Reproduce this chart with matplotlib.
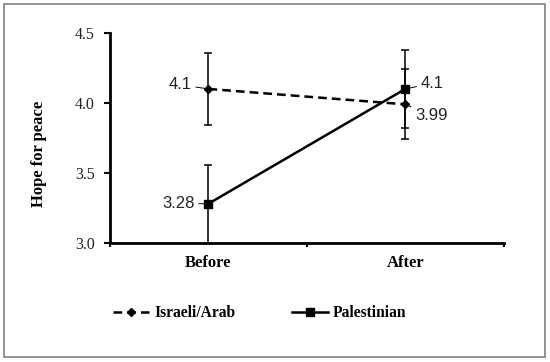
import matplotlib
matplotlib.use("Agg")
import matplotlib.pyplot as plt
from matplotlib.patches import Rectangle
from matplotlib.lines import Line2D

categories = ["Before", "After"]
israeli = [4.1, 3.99]
israeli_err = [0.26, 0.25]
palestinian = [3.28, 4.1]
palestinian_err = [0.28, 0.28]
yticks = [3.0, 3.5, 4.0, 4.5]

serif = "Liberation Serif"
sans = "Liberation Sans"

fig = plt.figure(figsize=(5.5, 3.62), dpi=100)
ax = fig.add_axes([0.2, 0.329, 0.716, 0.580])

x = list(range(len(categories)))

isr_ls = (0, (3.5, 2))
ax.errorbar(x, israeli, yerr=israeli_err, color="black", lw=1.8, ls=isr_ls,
            marker="D", ms=4, capsize=3, elinewidth=1.1, capthick=1.1, zorder=3)
ax.errorbar(x, palestinian, yerr=palestinian_err, color="black", lw=1.8, ls="-",
            marker="s", ms=6, capsize=3, elinewidth=1.1, capthick=1.1, zorder=3)

ax.set_xlim(-0.5, 1.5)
ax.set_ylim(3.0, 4.5)
ax.set_yticks(yticks)
ax.set_yticklabels([f"{v:.1f}" for v in yticks], fontfamily=serif, fontsize=11.5, color="#222222")
ax.set_xticks([-0.5, 0.5, 1.5])
ax.set_xticklabels([])
ax.set_xticks(x, minor=True)
ax.set_xticklabels(categories, minor=True, fontfamily=serif, fontweight="bold", fontsize=12)
ax.tick_params(axis="x", which="minor", length=0, pad=9)
ax.tick_params(axis="x", which="major", length=3, width=1.5, direction="out")
ax.tick_params(axis="y", length=4, width=1.5, direction="out", pad=7)

for s in ["top", "right"]:
    ax.spines[s].set_visible(False)
for s in ["left", "bottom"]:
    ax.spines[s].set_linewidth(2)

ax.set_ylabel("Hope for peace", fontfamily=serif, fontweight="bold", fontsize=12)
ax.yaxis.set_label_coords(-0.16, 0.424)

def lab(xv, yv, text, dx, dy, ha):
    ax.annotate(text, xy=(xv, yv), xytext=(dx, dy), textcoords="offset points",
                ha=ha, va="center", fontsize=12, fontfamily=sans, color="#222222",
                arrowprops=dict(arrowstyle="-", lw=0.7, color="black", shrinkA=1, shrinkB=2))

lab(x[0], israeli[0], "4.1", -12, 3, "right")
lab(x[0], palestinian[0], "3.28", -10, 0, "right")
lab(x[1], palestinian[1], "4.1", 11, 4, "left")
lab(x[1], israeli[1], "3.99", 7, -8, "left")

handles = [
    Line2D([], [], color="black", lw=1.8, ls=isr_ls, marker="D", ms=4),
    Line2D([], [], color="black", lw=1.8, ls="-", marker="s", ms=6),
]
fig.legend(handles, ["Israeli/Arab", "Palestinian"], loc="center left",
           bbox_to_anchor=(0.205, 0.135), ncol=2, frameon=False,
           borderpad=0, borderaxespad=0,
           prop={"family": serif, "weight": "bold", "size": 11.2},
           handlelength=2.35, columnspacing=3.65, handletextpad=0.3)

fig.patches.append(Rectangle((0.007, 0.013), 0.984, 0.975, transform=fig.transFigure,
                             fill=False, edgecolor="#808080", lw=1.2))

fig.savefig("out.png", dpi=100)
